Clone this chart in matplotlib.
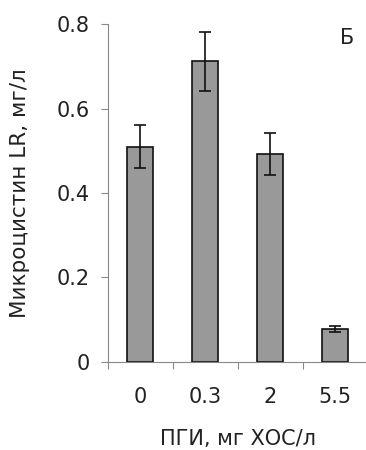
import matplotlib
matplotlib.use("Agg")
import matplotlib.pyplot as plt

categories = ["0", "0.3", "2", "5.5"]
values = [0.51, 0.712, 0.492, 0.078]
errors = [0.051, 0.07, 0.05, 0.007]
yticks = [0, 0.2, 0.4, 0.6, 0.8]
ytick_labels = ["0", "0.2", "0.4", "0.6", "0.8"]

fig = plt.figure(figsize=(3.66, 4.5), dpi=100)
ax = fig.add_axes([0.295, 0.1956, 0.71, 0.751])
x = list(range(len(categories)))
ax.bar(x, values, width=0.4, color="#999999", edgecolor="#111111", linewidth=1.2,
       yerr=errors, error_kw=dict(ecolor="#111111", elinewidth=1.2, capsize=4, capthick=1.2))
ax.set_xlim(-0.5, 3.5)
ax.set_ylim(0, 0.8)
ax.set_yticks(yticks)
ax.set_yticklabels(ytick_labels)
ax.set_xticks([-0.5, 0.5, 1.5, 2.5, 3.5])
ax.set_xticklabels([])
ax.set_xticks(x, minor=True)
ax.set_xticklabels(categories, minor=True)
ax.tick_params(axis="x", which="minor", length=0, pad=18, labelsize=15, labelcolor="#222222")
ax.tick_params(axis="x", which="major", length=5, color="#888888", direction="out")
ax.tick_params(axis="y", length=5, color="#888888", direction="out", labelsize=15, labelcolor="#222222", pad=8)
for s in ["top", "right"]:
    ax.spines[s].set_visible(False)
for s in ["left", "bottom"]:
    ax.spines[s].set_color("#888888")
ax.set_ylabel("Микроцистин LR, мг/л", fontsize=15.5, color="#222222", va="center")
ax.yaxis.set_label_coords(-0.338, 0.5)
ax.set_xlabel("ПГИ, мг ХОС/л", fontsize=15, color="#222222", va="center")
ax.xaxis.set_label_coords(0.5, -0.228)
ax.text(0.92, 0.96, "Б", transform=ax.transAxes, fontsize=15, color="#222222", ha="center", va="center")
fig.savefig("out.png", dpi=100)
